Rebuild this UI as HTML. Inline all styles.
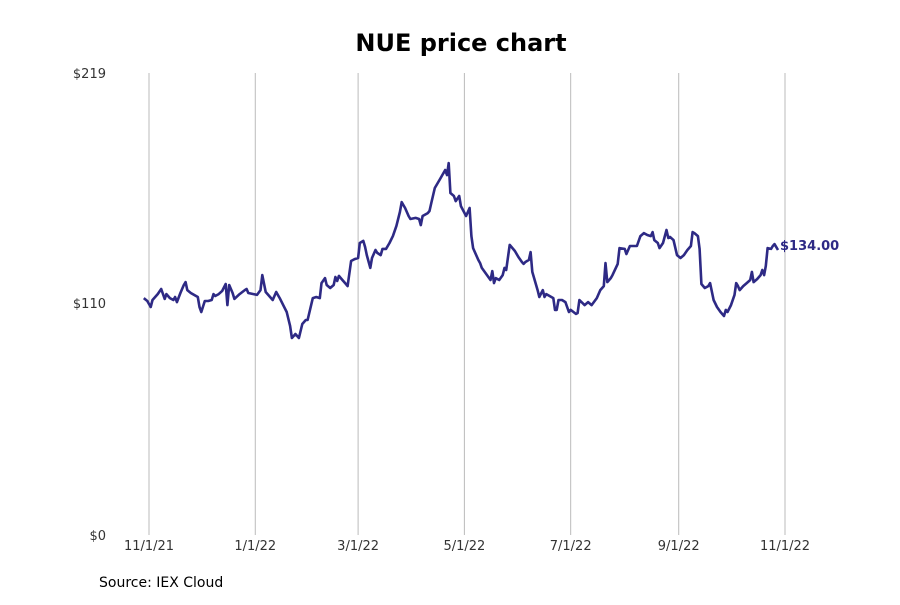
<!DOCTYPE html>
<html><head><meta charset="utf-8"><style>
body{margin:0;background:#fff;font-family:"Liberation Sans","DejaVu Sans",sans-serif}
svg text{font-family:"DejaVu Sans","Liberation Sans",sans-serif}
</style></head><body>
<svg id="chart" width="900" height="600" viewBox="0 0 900 600">
<rect width="900" height="600" fill="#fff"/>
<text x="461" y="51" text-anchor="middle" font-size="24" font-weight="bold" fill="#000">NUE price chart</text>
<g id="grid"></g><g id="yticks"></g><g id="xticks"></g><g id="series"></g>
<text x="99" y="587" font-size="14" fill="#000">Source: IEX Cloud</text>
</svg>
<script>
const days=[-3,-1,1,2,5,7,9,10,12,14,15,16,18,20,21,22,24,28,29,30,32,34,36,37,38,40,42,44,45,46,48,49,52,55,56,57,60,62,64,65,67,69,71,73,75,77,79,81,82,83,84,86,88,90,91,94,96,98,99,101,102,104,106,107,108,109,111,113,114,116,118,120,121,123,124,125,127,128,130,131,133,134,136,138,140,142,144,145,146,147,149,150,153,155,156,157,160,161,162,164,167,170,171,172,173,175,176,178,179,182,184,185,186,189,190,191,196,197,198,199,201,203,204,205,207,210,212,214,215,216,218,219,220,223,224,226,227,228,232,233,234,235,237,239,241,242,245,246,247,250,252,254,257,259,261,262,263,265,266,269,270,273,274,276,280,282,284,286,288,289,290,292,293,295,297,298,299,301,303,305,307,309,311,312,313,315,316,317,319,321,322,324,326,328,330,331,332,334,336,337,338,339,341,343,345,346,347,349,351,352,353,354,355,357,358,359,361];
const prices=[112.3,110.9,108.1,111.4,114.2,116.6,111.9,114.2,112.3,111.4,112.8,110.4,114.7,118.5,119.9,116.1,114.7,112.8,108.1,105.7,110.9,110.9,111.4,114.2,113.3,114.2,115.7,119.0,109.0,118.5,114.7,111.9,114.2,116.1,116.6,114.7,114.2,113.8,116.1,123.2,115.2,113.3,111.4,115.2,112.3,109.0,105.7,99.1,93.4,94.3,95.3,93.4,100.0,101.9,101.9,112.3,112.8,112.3,119.4,121.8,118.5,117.1,118.5,122.3,120.4,122.8,120.9,119.0,118.0,129.9,130.8,131.3,138.4,139.4,136.5,132.7,126.6,131.3,135.1,133.7,132.7,135.6,135.6,138.4,141.7,146.5,153.1,157.8,156.4,155.0,151.2,149.8,150.3,149.8,146.9,151.2,152.6,153.6,157.4,164.5,168.7,173.0,170.6,176.3,162.1,160.7,158.3,160.7,155.9,151.2,155.0,141.7,136.0,130.4,128.9,126.6,120.9,125.1,119.4,121.8,120.9,123.2,126.6,125.6,137.5,134.6,131.8,129.4,128.5,129.4,130.4,134.1,124.7,116.1,112.8,116.1,112.8,114.2,112.3,106.7,106.7,111.4,111.4,110.4,105.7,106.7,104.8,105.2,111.4,109.0,110.4,109.0,112.3,116.1,118.0,128.9,119.9,121.8,123.2,128.5,136.0,135.6,133.2,137.0,137.0,141.7,143.1,142.2,141.7,143.6,139.8,138.4,136.0,138.4,144.6,140.8,141.3,139.8,132.7,131.3,132.7,135.1,137.0,143.6,143.1,141.7,135.6,119.0,117.1,118.0,119.4,111.4,108.1,105.7,103.8,106.7,105.7,109.0,113.8,119.4,118.0,116.1,118.0,119.4,120.9,124.7,119.9,121.3,123.2,125.6,123.2,127.5,136.0,135.6,137.0,137.9,135.1];
const xTickLabels=["11/1/21","1/1/22","3/1/22","5/1/22","7/1/22","9/1/22","11/1/22"];
const xTickDays=[0,61,120,181,242,304,365];
const yTickValues=[0,110,219];
const lastLabel="$134.00";

const NS="http://www.w3.org/2000/svg";
const X=d=>149+d*(636/365);
const Y=p=>535-p*(462/219);
function mk(tag,attrs,parent){const e=document.createElementNS(NS,tag);for(const k in attrs)e.setAttribute(k,attrs[k]);parent.appendChild(e);return e;}
const grid=document.getElementById('grid'),xt=document.getElementById('xticks'),yt=document.getElementById('yticks'),ser=document.getElementById('series');
xTickDays.forEach((d,i)=>{
  const l=mk('line',{x1:X(d),x2:X(d),y1:73,y2:535,stroke:'#bbb','stroke-width':1},grid);
  
  
  const t=mk('text',{x:X(d),y:550,'text-anchor':'middle','font-size':13,fill:'#333'},xt);
  t.textContent=xTickLabels[i];
  
  
});
yTickValues.forEach(v=>{
  const t=mk('text',{x:106,y:Y(v)+5,'text-anchor':'end','font-size':13,fill:'#333'},yt);
  t.textContent='$'+v;
  
  
});
const pts=days.map((d,i)=>X(d).toFixed(1)+','+Y(prices[i]).toFixed(1)).join(' ');
const pl=mk('polyline',{points:pts,fill:'none',stroke:'#2e2a85','stroke-width':2.6,'stroke-linejoin':'round'},ser);


const lx=X(days[days.length-1]),ly=Y(prices[prices.length-1]);
const lab=mk('text',{x:lx+2,y:ly,'font-size':13,'font-weight':'bold',fill:'#2e2a85'},ser);
lab.textContent=lastLabel;


</script>
</body></html>
